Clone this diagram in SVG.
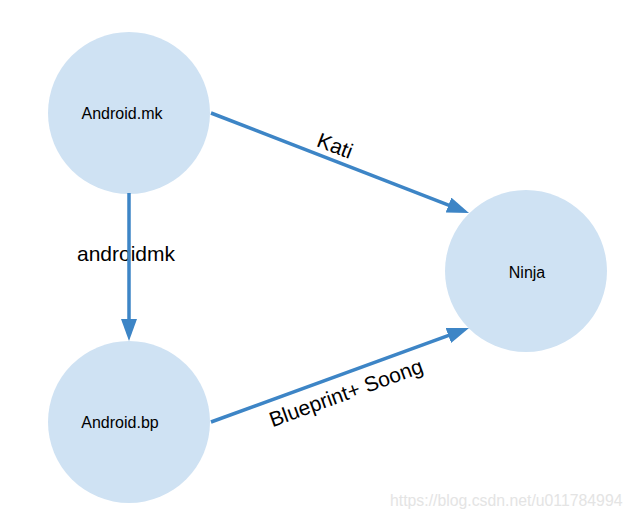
<svg xmlns="http://www.w3.org/2000/svg" width="633" height="519" viewBox="0 0 633 519">
<defs>
<style>
.node{fill:#cfe2f3;}
.nl{font-family:"Liberation Sans",Arial,sans-serif;font-size:16px;fill:#000;text-anchor:middle;}
.el{font-family:"Liberation Sans",Arial,sans-serif;font-size:21px;fill:#000;text-anchor:middle;}
.edge{stroke:#3d85c6;stroke-width:3.5;fill:none;marker-end:url(#ah);}
.wm{font-family:"Liberation Sans",Arial,sans-serif;font-size:15.8px;fill:#e4e4e4;}
</style>
<marker id="ah" viewBox="0 0 22 16" markerWidth="22" markerHeight="16" markerUnits="userSpaceOnUse" refX="7" refY="8" orient="auto">
<path d="M0,0 L22,8 L0,16 z" fill="#3d85c6"/>
</marker>
</defs>
<rect width="633" height="519" fill="#fff"/>
<g id="node-android-mk">
<circle class="node" cx="129" cy="113" r="81"/>
<text class="nl" x="122" y="119">Android.mk</text>
</g>
<g id="node-android-bp">
<circle class="node" cx="129" cy="422" r="81"/>
<text class="nl" x="120" y="428">Android.bp</text>
</g>
<g id="node-ninja">
<circle class="node" cx="526" cy="271" r="81"/>
<text class="nl" x="527" y="278">Ninja</text>
</g>
<g id="edge-labels">
<text class="el" x="126" y="261">androidmk</text>
<g transform="translate(335,146) rotate(21)"><text class="el" x="0" y="7">Kati</text></g>
<g transform="translate(346,393) rotate(-20)"><text class="el" x="0" y="7">Blueprint+ Soong</text></g>
</g>
<g id="connectors">
<line class="edge" x1="211" y1="113" x2="455" y2="207.6"/>
<line class="edge" x1="129" y1="193" x2="129" y2="326"/>
<line class="edge" x1="211" y1="422" x2="454.9" y2="333.1"/>
</g>
<text class="wm" x="390" y="506">https://blog.csdn.net/u011784994</text>
</svg>
